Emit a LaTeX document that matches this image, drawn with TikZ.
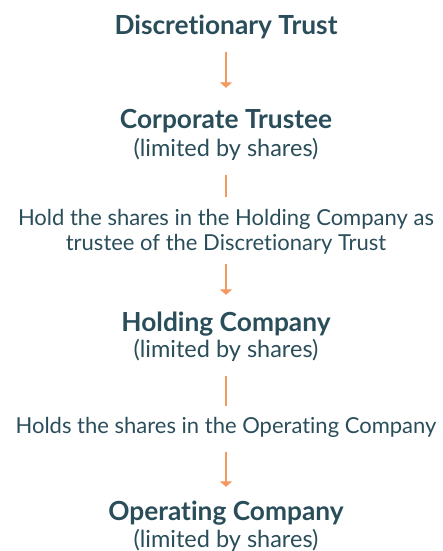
\documentclass[tikz,border=0pt]{standalone}
\usepackage{fontspec}
\setmainfont{Lato}[Ligatures=CommonOff]
\usetikzlibrary{arrows.meta}
\definecolor{trustTeal}{HTML}{2A4D5A}
\definecolor{trustOrange}{HTML}{F4985E}
\tikzset{
  entity/.style={inner sep=0pt, anchor=base, text=trustTeal, text height=19.5pt, text depth=5pt,
    font=\fontsize{26.3}{30}\selectfont\bfseries},
  kind/.style={inner sep=0pt, anchor=base, text=trustTeal, text height=17pt, text depth=5pt,
    font=\fontsize{23.5}{27}\selectfont},
  note/.style={inner sep=0pt, text=trustTeal, align=center,
    font=\fontsize{22}{25}\selectfont},
  link/.style={draw=trustOrange, line width=1.8pt},
  flow/.style={link, -{Triangle[width=12pt,length=5.5pt]}},
}
\begin{document}
\begin{tikzpicture}[x=1pt, y=-1pt]
		\useasboundingbox (0,0) rectangle (442,551);
		%%%%%%%%%%%%%
		\node[entity] (dt) at (226, 35) {Discretionary Trust};
		\node[entity] (ct) at (226, 128) {Corporate Trustee};
		\node[kind] (ctk) at (226, 156) {(limited by shares)};
		\node[note, anchor=north] (hold) at (226, 209.5) {Hold the shares in the Holding Company as\\trustee of the Discretionary Trust};
		\node[entity] (hc) at (226, 331) {Holding Company};
		\node[kind] (hck) at (226, 357) {(limited by shares)};
		\node[note, anchor=base, text height=16pt, text depth=5pt] (holds) at (226, 433) {Holds the shares in the Operating Company};
		\node[entity] (oc) at (226, 520) {Operating Company};
		\node[kind] (ock) at (226, 547) {(limited by shares)};
		%%%%%%%%%%%%%
		\draw[flow, shorten <=12pt, shorten >=20.5pt] (dt) to (ct);
		\draw[link, shorten <=14pt, shorten >=12.5pt] (ctk) to (hold);
		\draw[flow, shorten <=9.5pt, shorten >=16.5pt] (hold) to (hc);
		\draw[link, shorten <=14pt, shorten >=11pt] (hck) to (holds);
		\draw[flow, shorten <=14pt, shorten >=13.5pt] (holds) to (oc);
\end{tikzpicture}
\end{document}
